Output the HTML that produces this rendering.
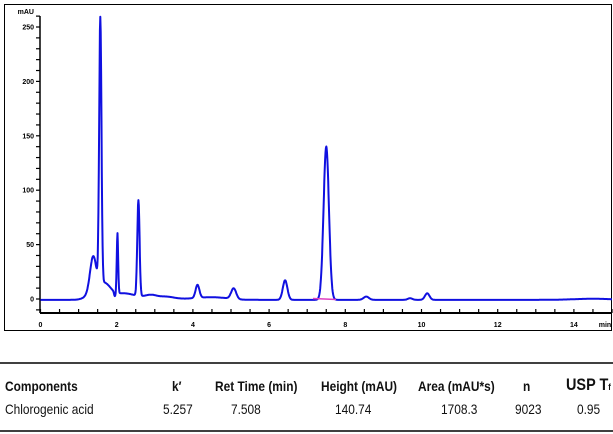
<!DOCTYPE html>
<html><head><meta charset="utf-8"><style>
body{margin:0;width:613px;height:434px;background:#fff;overflow:hidden;font-family:"Liberation Sans",sans-serif;}
svg{position:absolute;left:0;top:0}
.t{position:absolute;font-size:14px;color:#111;white-space:nowrap;transform:scaleX(0.85);transform-origin:left top}
.h{font-weight:bold}
</style></head><body>
<svg id="s" width="613" height="434" xmlns="http://www.w3.org/2000/svg">
<rect x="4.5" y="4.5" width="607" height="326" fill="none" stroke="#000" stroke-width="1"/>
<line x1="0" y1="363" x2="613" y2="363" stroke="#000" stroke-width="1.5"/>
<line x1="0" y1="431" x2="613" y2="431" stroke="#000" stroke-width="1.5"/>
<g id="ax"></g>
<path id="p" fill="none" stroke="#1010e0" stroke-width="2" stroke-linejoin="round"/>
<line x1="313" y1="298.5" x2="336" y2="299.5" stroke="#e040c0" stroke-width="1.5"/>
</svg>
<div class="t h" style="left:5px;top:378px">Components</div>
<div class="t h" style="left:172px;top:378px">k′</div>
<div class="t h" style="left:215px;top:378px">Ret Time (min)</div>
<div class="t h" style="left:321px;top:378px">Height (mAU)</div>
<div class="t h" style="left:418px;top:378px">Area (mAU*s)</div>
<div class="t h" style="left:523px;top:378px">n</div>
<div class="t h" style="left:566px;top:375px;font-size:17px">USP T<span style="font-size:9px">f</span></div>
<div class="t" style="left:5px;top:401px">Chlorogenic acid</div>
<div class="t" style="left:163px;top:401px">5.257</div>
<div class="t" style="left:231px;top:401px">7.508</div>
<div class="t" style="left:335px;top:401px">140.74</div>
<div class="t" style="left:441px;top:401px">1708.3</div>
<div class="t" style="left:515px;top:401px">9023</div>
<div class="t" style="left:577px;top:401px">0.95</div>
<script>
var X0=40.5,SX=38.1,Y0=299,SY=1.088;
function X(t){return X0+t*SX}function Y(v){return Y0-v*SY}
var ax='';
ax+='<line x1="40" y1="16" x2="40" y2="313" stroke="#000" stroke-width="1.5"/>';
ax+='<line x1="40" y1="313" x2="611" y2="313" stroke="#000" stroke-width="2"/>';
for(var v=-10;v<=260;v+=10){var y=Y(v);ax+='<line x1="36" y1="'+y+'" x2="40" y2="'+y+'" stroke="#000" stroke-width="1.2"/>';}
[0,50,100,150,200,250].forEach(function(v){ax+='<text x="34" y="'+(Y(v)+2.5)+'" font-size="7" text-anchor="end" font-family="Liberation Sans" font-weight="bold">'+v+'</text>';});
ax+='<text x="34" y="14" font-size="7" text-anchor="end" font-family="Liberation Sans" font-weight="bold">mAU</text>';
for(var t=0;t<=15;t+=0.5){var x=X(t);ax+='<line x1="'+x+'" y1="309" x2="'+x+'" y2="313" stroke="#000" stroke-width="1.2"/>';}
for(var t=0;t<=14;t+=2){ax+='<text x="'+X(t)+'" y="327" font-size="7" text-anchor="middle" font-family="Liberation Sans" font-weight="bold">'+t+'</text>';}
ax+='<text x="605" y="327" font-size="7" text-anchor="middle" font-family="Liberation Sans" font-weight="bold">min</text>';
document.getElementById('ax').innerHTML=ax;
var pk=[[1.38,30,0.08],[1.5,12,0.2],[1.57,245,0.03],[1.75,5,0.12],[2.02,55,0.018],[2.2,4,0.3],[2.57,88,0.03],[2.9,3,0.15],[3.3,2,0.2],[4.12,12,0.05],[4.5,2,0.4],[5.07,10,0.065],[6.42,18,0.06],[7.5,141,0.07],[8.55,3,0.07],[9.7,1.5,0.06],[10.15,6,0.06],[14.5,1,0.5]];
var d='';
for(var i=0;i<=1500;i++){var t=i*0.01,v=-0.8;
pk.forEach(function(p){v+=p[1]*Math.exp(-Math.pow(t-p[0],2)/(2*p[2]*p[2]));});
if(t>1.6&&t<5)v+=3*Math.exp(-(t-1.6)/1.5);
v-=4*Math.exp(-Math.pow(t-1.95,2)/(2*0.02*0.02));
d+=(i?'L':'M')+X(t).toFixed(1)+','+Y(v).toFixed(1);}
document.getElementById('p').setAttribute('d',d);
</script>
</body></html>
